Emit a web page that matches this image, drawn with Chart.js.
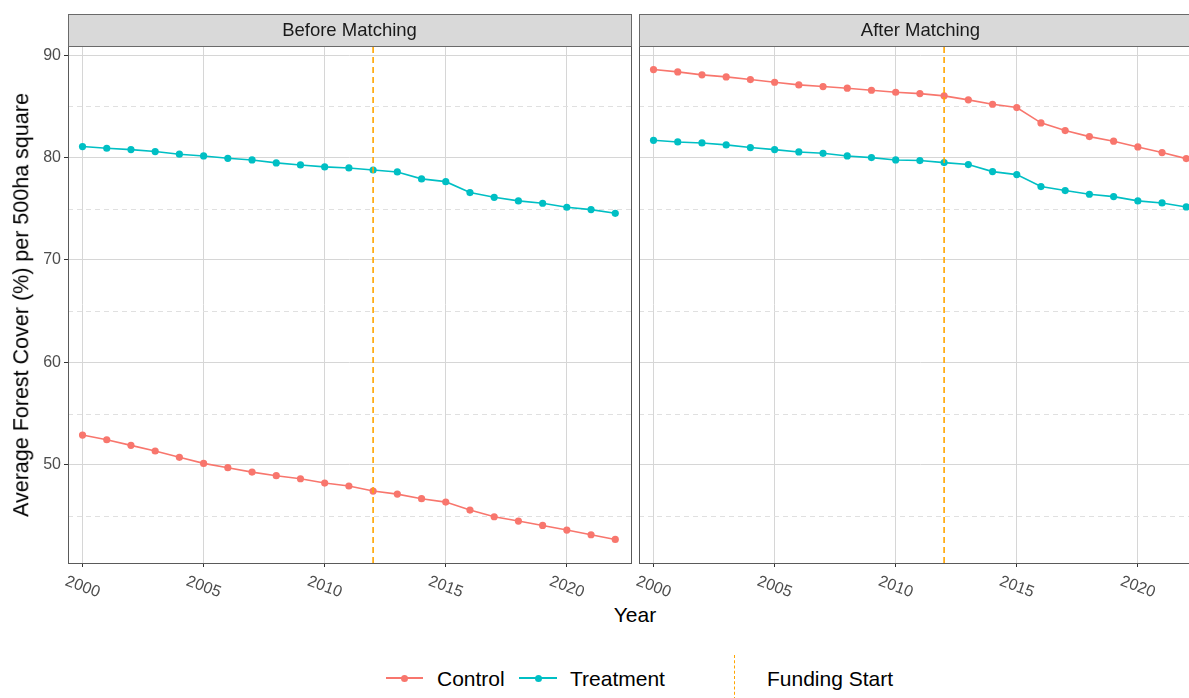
<!DOCTYPE html>
<html>
<head>
<meta charset="utf-8">
<script src="https://cdn.jsdelivr.net/npm/chart.js@4.4.0/dist/chart.umd.min.js"></script>
<style>
  html, body { margin: 0; padding: 0; background: #fff; overflow: hidden; }
  body { font-family: 'Liberation Sans', Arial, sans-serif; }
  #page { position: relative; width: 1210px; height: 698px; }
  canvas { position: absolute; top: 0; }
  .txt { position: absolute; white-space: nowrap; color: #000; font-size: 21px; line-height: 1; }
  .ytitle { left: 22px; top: 305px; font-size: 21.5px; transform: translate(-50%, -50%) rotate(-90deg); }
  .xtitle { left: 635px; top: 614px; transform: translate(-50%, -50%); }
  .leg { top: 678px; transform: translateY(-50%); }
  .key-line { position: absolute; height: 2px; top: 677px; }
  .key-dot { position: absolute; width: 7px; height: 7px; border-radius: 50%; top: 674.5px; }
  .key-vline { position: absolute; left: 734px; top: 655px; height: 45px; border-left: 1.5px dashed #FFA500; }
</style>
</head>
<body>
<div id="page">
  <canvas id="before" width="635" height="600" style="left:0"></canvas>
  <canvas id="after" width="575" height="600" style="left:635px"></canvas>

  <div class="txt ytitle">Average Forest Cover (%) per 500ha square</div>
  <div class="txt xtitle">Year</div>

  <div class="key-line" style="left:386px;width:37px;background:#F8766D"></div>
  <div class="key-dot" style="left:401px;background:#F8766D"></div>
  <div class="txt leg" style="left:437px">Control</div>
  <div class="key-line" style="left:519px;width:38px;background:#00BFC4"></div>
  <div class="key-dot" style="left:535px;background:#00BFC4"></div>
  <div class="txt leg" style="left:570px">Treatment</div>
  <div class="key-vline"></div>
  <div class="txt leg" style="left:767px">Funding Start</div>
</div>

<script>
// data
const years = [2000, 2001, 2002, 2003, 2004, 2005, 2006, 2007, 2008, 2009, 2010, 2011,
               2012, 2013, 2014, 2015, 2016, 2017, 2018, 2019, 2020, 2021, 2022];

const beforeControl = [52.9, 52.44, 51.89, 51.34, 50.72, 50.13, 49.71, 49.28, 48.93, 48.63, 48.21, 47.92,
                       47.43, 47.13, 46.68, 46.35, 45.57, 44.92, 44.5, 44.07, 43.62, 43.16, 42.7];
const beforeTreatment = [81.08, 80.91, 80.78, 80.59, 80.33, 80.16, 79.93, 79.77, 79.48, 79.28, 79.09, 78.99,
                         78.79, 78.6, 77.92, 77.65, 76.58, 76.12, 75.77, 75.54, 75.15, 74.92, 74.56];
const afterControl = [88.6, 88.37, 88.08, 87.88, 87.62, 87.36, 87.1, 86.94, 86.78, 86.58, 86.38, 86.25,
                      86.03, 85.64, 85.21, 84.89, 83.39, 82.64, 82.05, 81.6, 81.04, 80.49, 79.9];
const afterTreatment = [81.69, 81.53, 81.43, 81.24, 80.98, 80.78, 80.55, 80.42, 80.16, 80.0, 79.77, 79.71,
                        79.51, 79.32, 78.63, 78.34, 77.17, 76.78, 76.42, 76.19, 75.77, 75.57, 75.18];

const xTicks = [2000, 2005, 2010, 2015, 2020];
const yTicks = [50, 60, 70, 80, 90];
const yMinor = [45, 55, 65, 75, 85];
const fundingYear = 2012;

const FONT = "'Liberation Sans', Arial, sans-serif";
const RED = '#F8766D';
const TEAL = '#00BFC4';

function points(vals) {
  return years.map((yr, i) => ({ x: yr, y: vals[i] }));
}

function series(label, vals, color) {
  return {
    label: label,
    data: points(vals),
    borderColor: color,
    backgroundColor: color,
    borderWidth: 1.6,
    pointRadius: 3.6,
    pointBorderWidth: 0,
    pointBackgroundColor: color,
    tension: 0
  };
}

// strip, minor dashed grid, funding line, panel border and slanted year labels
const facetPlugin = {
  id: 'facet',
  beforeDatasetsDraw(chart) {
    const { ctx, chartArea: a, scales } = chart;
    ctx.save();
    ctx.strokeStyle = '#E0E0E0';
    ctx.lineWidth = 1;
    ctx.setLineDash([5, 4]);
    yMinor.forEach(v => {
      const py = Math.round(scales.y.getPixelForValue(v)) + 0.5;
      ctx.beginPath();
      ctx.moveTo(a.left, py);
      ctx.lineTo(a.right, py);
      ctx.stroke();
    });
    ctx.restore();
  },
  afterDatasetsDraw(chart) {
    const { ctx, chartArea: a, scales } = chart;
    const px = scales.x.getPixelForValue(fundingYear);
    ctx.save();
    ctx.strokeStyle = '#FFA500';
    ctx.lineWidth = 1.6;
    ctx.setLineDash([6, 4]);
    ctx.beginPath();
    ctx.moveTo(px, a.bottom);
    ctx.lineTo(px, a.top);
    ctx.stroke();
    ctx.restore();
  },
  afterDraw(chart, args, opts) {
    const { ctx, chartArea: a, scales } = chart;
    ctx.save();
    // panel border
    ctx.strokeStyle = '#5A5A5A';
    ctx.lineWidth = 1;
    ctx.strokeRect(Math.round(a.left) + 0.5, Math.round(a.top) + 0.5,
                   Math.round(a.right - a.left), Math.round(a.bottom - a.top));
    // strip
    ctx.fillStyle = '#D9D9D9';
    ctx.fillRect(a.left, 14, a.right - a.left, a.top - 14);
    ctx.strokeStyle = '#6A6A6A';
    ctx.strokeRect(Math.round(a.left) + 0.5, 14.5, Math.round(a.right - a.left), Math.round(a.top - 14));
    ctx.fillStyle = '#1A1A1A';
    ctx.font = '18.5px ' + FONT;
    ctx.textAlign = 'center';
    ctx.textBaseline = 'middle';
    ctx.fillText(opts.title, (a.left + a.right) / 2, (14 + a.top) / 2 + 1);
    // year labels, turned clockwise
    ctx.fillStyle = '#4D4D4D';
    ctx.font = '16px ' + FONT;
    xTicks.forEach(v => {
      const px = scales.x.getPixelForValue(v);
      ctx.save();
      ctx.translate(px, a.bottom + 24);
      ctx.rotate(20 * Math.PI / 180);
      ctx.fillText(String(v), 0, 0);
      ctx.restore();
    });
    ctx.restore();
  }
};

function makeChart(id, title, control, treatment, showY, padding) {
  new Chart(document.getElementById(id), {
    type: 'line',
    data: {
      datasets: [series('Control', control, RED), series('Treatment', treatment, TEAL)]
    },
    plugins: [facetPlugin],
    options: {
      responsive: false,
      animation: false,
      devicePixelRatio: 1,
      layout: { padding: padding },
      plugins: {
        legend: { display: false },
        tooltip: { enabled: false },
        facet: { title: title }
      },
      scales: {
        x: {
          type: 'linear',
          min: 1999.4,
          max: 2022.65,
          afterBuildTicks: s => { s.ticks = xTicks.map(v => ({ value: v })); },
          ticks: { display: false },
          grid: { color: '#D6D6D6', lineWidth: 1, tickColor: '#333', tickLength: 4, tickWidth: 1 },
          border: { display: false },
          afterFit: s => { s.height = 37; }
        },
        y: {
          min: 40.4,
          max: 90.9,
          afterBuildTicks: s => { s.ticks = yTicks.map(v => ({ value: v })); },
          ticks: {
            display: showY,
            color: '#4D4D4D',
            padding: 3,
            font: { family: FONT, size: 16 }
          },
          grid: { color: '#D6D6D6', lineWidth: 1, drawTicks: showY, tickColor: '#333', tickLength: 4, tickWidth: 1 },
          border: { display: false },
          afterFit: s => { s.width = showY ? 68 : 0; }
        }
      }
    }
  });
}

makeChart('before', 'Before Matching', beforeControl, beforeTreatment, true,
          { top: 46, right: 4, bottom: 0, left: 0 });
makeChart('after', 'After Matching', afterControl, afterTreatment, false,
          { top: 46, right: 8, bottom: 0, left: 4 });
</script>
</body>
</html>
